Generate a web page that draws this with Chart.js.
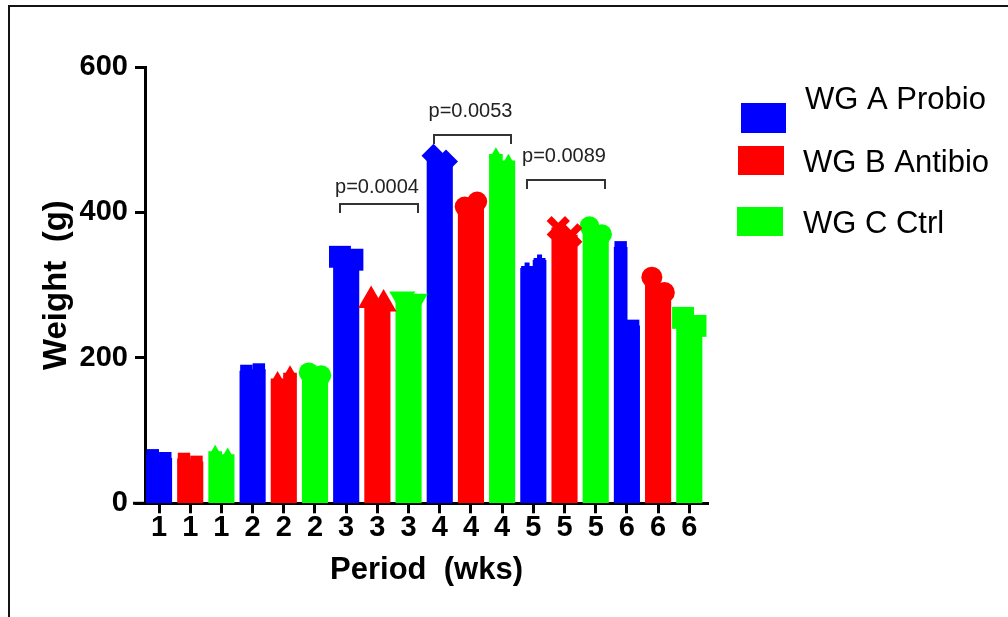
<!DOCTYPE html>
<html>
<head>
<meta charset="utf-8">
<script src="https://cdn.jsdelivr.net/npm/chart.js@4.4.1/dist/chart.umd.min.js"></script>
<style>
  html, body { margin: 0; padding: 0; background: #fff; }
  #wrap { position: relative; width: 1008px; height: 617px; overflow: hidden; }
  #frame { position: absolute; left: 8px; top: 5px; width: 1100px; height: 700px;
           border-top: 2px solid #141414; border-left: 2px solid #141414; }
  canvas { position: absolute; left: 0; top: 0; }
</style>
</head>
<body>
<div id="wrap">
  <div id="frame"></div>
  <canvas id="chart" width="1008" height="617"></canvas>
</div>
<script>
// data
const periods = ['1', '2', '3', '4', '5', '6'];
const groupNames = ['WG A Probio', 'WG B Antibio', 'WG C Ctrl'];

// two replicate values per bar (left half / right half)
const probioLeft   = [66, 182, 339, 478, 323, 352];
const probioRight  = [62, 184, 335, 470, 334, 244];
const antibioLeft  = [61, 171, 279, 408, 379, 311];
const antibioRight = [57, 179, 274, 415, 369, 290];
const ctrlLeft     = [71, 180, 281, 480, 381, 255];
const ctrlRight    = [67, 176, 278, 471, 370, 244];

const yTicks = [0, 200, 400, 600];

// significance brackets
const pLabels  = ['p=0.0004', 'p=0.0053', 'p=0.0089'];
const pPeriods = ['3', '4', '5'];
const pHeights = [412, 506, 444];
const pTextAt  = [427, 531, 470];

// styles
const groupColors = ['#0000ff', '#ff0000', '#00ff00'];
const markerStyle = [
  ['rect', 'rect', 'rect', 'rectRot', 'cross', 'rect'],
  ['rect', 'triangle', 'triangle', 'circle', 'crossRot', 'circle'],
  ['triangle', 'circle', 'triangle', 'triangle', 'circle', 'rect']
];
const markerRadius = [
  [8.8, 8.8, 15.5, 12, 6, 8.8],
  [8.8, 8, 15, 10, 13, 10.5],
  [7, 10, 15, 7, 10, 15.5]
];
const markerRotation = [
  [0, 0, 0, 0, 0, 0],
  [0, 0, 0, 0, 0, 0],
  [0, 0, 180, 0, 0, 0]
];
const markerLine = [
  [0, 0, 0, 0, 5, 0],
  [0, 0, 0, 0, 7, 0],
  [0, 0, 0, 0, 0, 0]
];
const boldFont = "'Liberation Sans', Arial, sans-serif";
const plainFont = "'Liberation Sans', Arial, sans-serif";

const series = [[probioLeft, probioRight], [antibioLeft, antibioRight], [ctrlLeft, ctrlRight]];
const xLabels = periods.flatMap(p => [p, p, p]);
const half = 0.2;
const slot = (w, g) => w * 3 + g;
const twice = arr => arr.flatMap(v => [v, v]);

const points = g => periods.flatMap((p, w) => [
  { x: slot(w, g) - half, y: series[g][0][w] },
  { x: slot(w, g) + half, y: series[g][1][w] }
]);

const barSets = groupNames.map((name, g) => ({
  type: 'bar',
  label: name,
  data: points(g),
  backgroundColor: groupColors[g],
  borderWidth: 0,
  barThickness: 13,
  grouped: false,
  order: 2
}));

const markerSets = groupNames.map((name, g) => ({
  type: 'scatter',
  label: name + ' points',
  data: points(g),
  showLine: false,
  clip: false,
  pointStyle: twice(markerStyle[g]),
  pointRadius: twice(markerRadius[g]),
  pointRotation: twice(markerRotation[g]),
  pointBorderWidth: twice(markerLine[g]),
  pointBackgroundColor: groupColors[g],
  pointBorderColor: groupColors[g],
  order: 1
}));

// brackets, legend and the axis stub left of the y axis
const annotate = {
  id: 'annotate',
  afterDraw(chart) {
    const { ctx, chartArea } = chart;
    const x = chart.scales.x, y = chart.scales.y;
    ctx.save();

    ctx.strokeStyle = '#000';
    ctx.lineWidth = 3;
    ctx.beginPath();
    ctx.moveTo(chartArea.left - 12, chartArea.bottom);
    ctx.lineTo(chartArea.left, chartArea.bottom);
    ctx.stroke();

    ctx.strokeStyle = '#333';
    ctx.lineWidth = 2;
    ctx.fillStyle = '#222';
    ctx.font = '20px ' + plainFont;
    ctx.textAlign = 'center';
    ctx.textBaseline = 'alphabetic';
    pLabels.forEach((txt, i) => {
      const w = periods.indexOf(pPeriods[i]);
      const x0 = Math.round(x.getPixelForValue(slot(w, 0) - 0.2));
      const x1 = Math.round(x.getPixelForValue(slot(w, 2) + 0.3));
      const yy = Math.round(y.getPixelForValue(pHeights[i]));
      ctx.beginPath();
      ctx.moveTo(x0, yy + 9);
      ctx.lineTo(x0, yy);
      ctx.lineTo(x1, yy);
      ctx.lineTo(x1, yy + 9);
      ctx.stroke();
      ctx.fillText(txt, (x0 + x1) / 2 - 2, y.getPixelForValue(pTextAt[i]));
    });

    const boxes = [[741, 103, 45, 30], [738, 146, 46, 29], [737, 207, 46, 29]];
    const texts = [[805, 109], [803, 172], [803, 233]];
    ctx.font = '31px ' + plainFont;
    ctx.textAlign = 'left';
    chart.data.datasets.filter(d => d.type === 'bar').forEach((d, i) => {
      ctx.fillStyle = d.backgroundColor;
      ctx.fillRect(...boxes[i]);
      ctx.fillStyle = '#000';
      ctx.fillText(d.label, texts[i][0], texts[i][1]);
    });
    ctx.restore();
  }
};

new Chart(document.getElementById('chart'), {
  type: 'bar',
  data: { datasets: [...markerSets, ...barSets] },
  options: {
    responsive: false,
    animation: false,
    layout: { padding: { top: 67, right: 300, bottom: 0, left: 0 } },
    plugins: { legend: { display: false }, tooltip: { enabled: false } },
    scales: {
      x: {
        type: 'linear',
        offset: false,
        min: -0.45,
        max: 17.6,
        afterFit: s => { s.height = 113.7; },
        afterBuildTicks: s => { s.ticks = xLabels.map((_, i) => ({ value: i })); },
        ticks: {
          callback: v => xLabels[v],
          autoSkip: false,
          maxRotation: 0,
          color: '#000',
          padding: 0,
          font: { family: boldFont, size: 29, weight: 'bold', lineHeight: 1 }
        },
        grid: { display: true, offset: false, drawOnChartArea: false, drawTicks: true, tickLength: 10, tickWidth: 3, tickColor: '#000' },
        border: { display: true, color: '#000', width: 3 },
        title: {
          display: true, text: 'Period  (wks)', color: '#000',
          font: { family: plainFont, size: 31, weight: 'bold' },
          padding: { top: 0, bottom: 28 }
        }
      },
      y: {
        min: 0,
        max: 600,
        afterFit: s => { s.width = 145; },
        afterBuildTicks: s => { s.ticks = yTicks.map(v => ({ value: v })); },
        ticks: {
          color: '#000',
          padding: 7,
          font: { family: boldFont, size: 29, weight: 'bold', lineHeight: 1 }
        },
        grid: { display: true, drawOnChartArea: false, drawTicks: true, tickLength: 10, tickWidth: 3, tickColor: '#000' },
        border: { display: true, color: '#000', width: 3 },
        title: {
          display: true, text: 'Weight  (g)', color: '#000',
          font: { family: plainFont, size: 33, weight: 'bold' },
          padding: { top: 37, bottom: 0 }
        }
      }
    }
  },
  plugins: [annotate]
});
</script>
</body>
</html>
